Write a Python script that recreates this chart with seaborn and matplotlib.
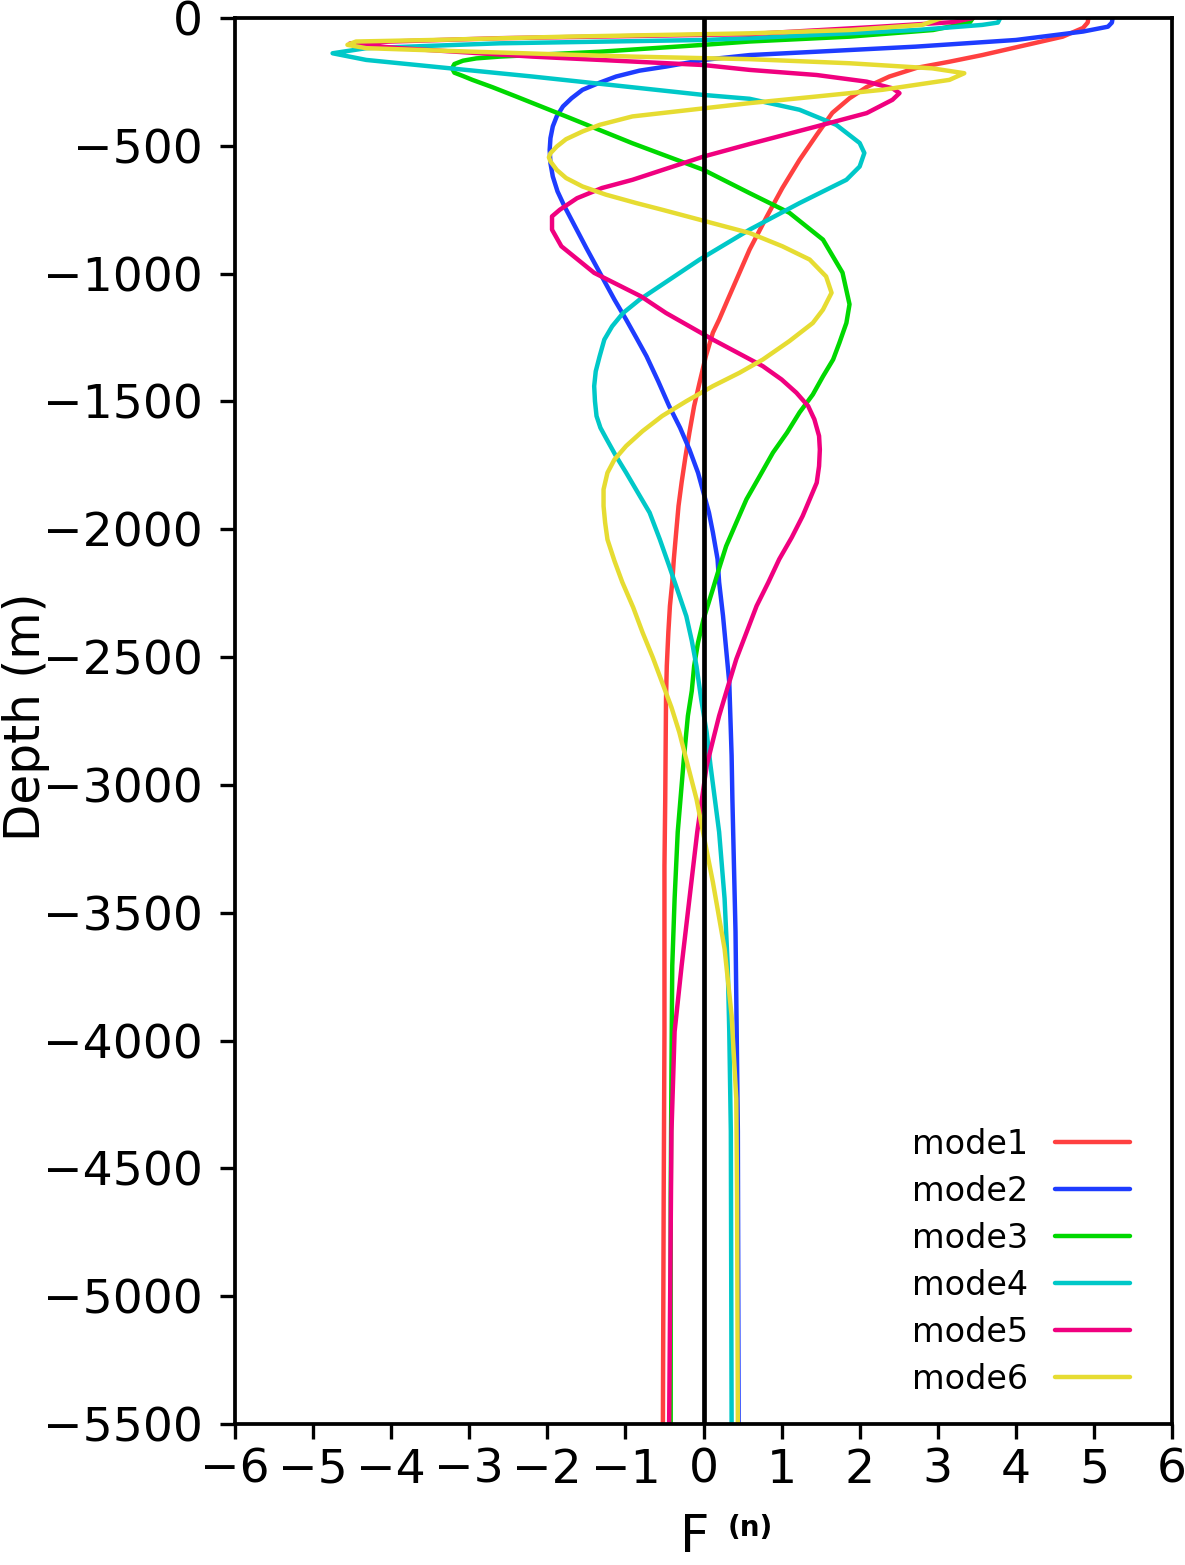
import numpy as np
import pandas as pd
import matplotlib
matplotlib.use("Agg")
import matplotlib.pyplot as plt
import seaborn as sns

# ---------------- data ----------------
mode_names = ["mode1", "mode2", "mode3", "mode4", "mode5", "mode6"]

depth1 = [0, -18, -39, -73, -145, -171, -195, -229, -270, -314, -371, -457, -555, -665, -777,
          -906, -1102, -1180, -1231, -1323, -1426, -1518, -1621, -1714, -1816, -1909, -2012,
          -2117, -2207, -2300, -2402, -2534, -2664, -3055, -3316, -3965, -4617, -5500]
f1 = [4.93, 4.92, 4.86, 4.6, 3.57, 3.15, 2.73, 2.38, 2.09, 1.87, 1.65, 1.45, 1.23, 1.01, 0.81,
      0.59, 0.31, 0.2, 0.12, 0.03, -0.05, -0.12, -0.18, -0.23, -0.28, -0.32, -0.35,
      -0.38, -0.40, -0.43, -0.45, -0.47, -0.48, -0.49, -0.50, -0.50, -0.51, -0.52]

depth2 = [0, -18, -34, -53, -86, -112, -132, -145, -164, -190, -206, -229, -253, -281, -314,
          -346, -385, -424, -470, -516, -568, -620, -678, -737, -900, -1102, -1180, -1251,
          -1323, -1421, -1518, -1603, -1688, -1779, -1857, -1935, -2012, -2117, -2207, -2339,
          -2469, -2599, -2885, -3055, -3574, -4355, -5500]
f2 = [5.24, 5.23, 5.18, 4.86, 4.0, 2.72, 1.44, 0.59, 0.0, -0.48, -0.82, -1.12, -1.33, -1.55, -1.69,
      -1.8, -1.88, -1.93, -1.96, -1.97, -1.96, -1.93, -1.87, -1.78, -1.5, -1.14, -0.99, -0.86,
      -0.73, -0.58, -0.44, -0.30, -0.18, -0.07, 0.0, 0.07, 0.12, 0.18, 0.2, 0.25,
      0.29, 0.33, 0.36, 0.37, 0.41, 0.44, 0.45]

depth3 = [0, -18, -47, -73, -92, -105, -132, -151, -158, -167, -180, -197, -214, -227, -242,
          -271, -307, -385, -490, -594, -685, -762, -867, -996, -1120, -1193, -1271, -1336,
          -1402, -1473, -1543, -1622, -1700, -1792, -1883, -1974, -2066, -2143, -2234, -2293,
          -2352, -2443, -2535, -2632, -2730, -2892, -3184, -3445, -3707, -4098, -4617, -5500]
f3 = [3.45, 3.41, 2.94, 1.87, 0.59, 0.0, -1.33, -2.61, -2.91, -3.08, -3.19, -3.22, -3.19, -3.08, -2.96,
      -2.70, -2.4, -1.76, -0.91, 0.0, 0.59, 1.1, 1.53, 1.78, 1.87, 1.83, 1.74, 1.66,
      1.53, 1.40, 1.23, 1.07, 0.89, 0.72, 0.55, 0.42, 0.29, 0.21, 0.12, 0.06,
      0.0, -0.07, -0.12, -0.15, -0.2, -0.25, -0.33, -0.37, -0.40, -0.41, -0.42, -0.42]

depth4 = [0, -18, -27, -47, -66, -79, -86, -99, -118, -138, -164, -190, -229, -271, -301,
          -316, -359, -418, -489, -528, -581, -633, -724, -828, -945, -1102, -1154, -1206,
          -1258, -1323, -1382, -1440, -1499, -1557, -1603, -1648, -1714, -1779, -1857,
          -1935, -2039, -2143, -2241, -2340, -2436, -2535, -2664, -2794, -2925, -3184,
          -3445, -3707, -3965, -4355, -5500]
f4 = [3.8, 3.77, 3.57, 2.73, 1.45, 0.59, 0.0, -2.61, -4.32, -4.75, -4.32, -3.47, -2.19, -0.91, 0.0,
      0.59, 1.23, 1.7, 2.0, 2.06, 2.0, 1.83, 1.23, 0.59, -0.05, -0.82, -1.03, -1.17,
      -1.27, -1.33, -1.38, -1.4, -1.39, -1.37, -1.32, -1.24, -1.12, -0.99, -0.84,
      -0.69, -0.56, -0.44, -0.33, -0.22, -0.15, -0.09, -0.03, 0.04, 0.09, 0.2,
      0.27, 0.31, 0.33, 0.35, 0.36]

depth5 = [0, -16, -35, -63, -66, -79, -92, -100, -110, -118, -151, -184, -203, -223, -249,
          -275, -294, -320, -372, -424, -493, -542, -633, -665, -705, -750, -776, -828, -893,
          -997, -1089, -1154, -1206, -1258, -1310, -1362, -1414, -1466, -1518, -1570, -1635,
          -1688, -1753, -1818, -1883, -1948, -2032, -2117, -2208, -2300, -2404, -2508,
          -2618, -2730, -2827, -2926, -3184, -3445, -3707, -3965, -4355, -5500]
f5 = [3.45, 3.2, 2.2, 0.59, 0.0, -2.61, -4.0, -4.53, -4.2, -3.89, -2.19, 0.0, 0.59, 1.45, 2.09,
      2.42, 2.51, 2.42, 2.09, 1.45, 0.59, 0.0, -0.91, -1.30, -1.62, -1.84, -1.94, -1.94, -1.82,
      -1.40, -0.80, -0.48, -0.18, 0.12, 0.44, 0.76, 1.0, 1.19, 1.34, 1.42, 1.48,
      1.49, 1.48, 1.45, 1.36, 1.27, 1.13, 0.97, 0.83, 0.68, 0.55, 0.42,
      0.31, 0.2, 0.12, 0.04, -0.08, -0.18, -0.28, -0.37, -0.41, -0.44]

depth6 = [0, -27, -47, -60, -73, -86, -92, -105, -118, -131, -151, -161, -177, -197, -216,
          -242, -281, -307, -333, -385, -418, -444, -474, -503, -529, -545, -561, -594, -626,
          -659, -691, -724, -750, -841, -893, -945, -1011, -1075, -1141, -1193, -1264,
          -1336, -1388, -1440, -1499, -1557, -1616, -1674, -1727, -1779, -1844, -1909,
          -1974, -2040, -2124, -2207, -2306, -2404, -2501, -2599, -2697, -2794, -2925,
          -3055, -3380, -3641, -3902, -4227, -4617, -5500]
f6 = [3.05, 2.8, 1.87, 0.59, -1.76, -3.47, -4.45, -4.56, -4.32, -3.04, -0.91, 0.59, 1.87, 2.93, 3.34,
      3.15, 2.29, 1.45, 0.59, -0.91, -1.33, -1.55, -1.76, -1.88, -1.96, -1.98, -1.96, -1.88, -1.76,
      -1.55, -1.25, -0.86, -0.53, 0.59, 1.01, 1.36, 1.57, 1.64, 1.53, 1.4, 1.10,
      0.76, 0.46, 0.12, -0.22, -0.53, -0.78, -0.99, -1.14, -1.23, -1.28, -1.28,
      -1.26, -1.23, -1.14, -1.04, -0.90, -0.78, -0.65, -0.53, -0.41, -0.31, -0.20,
      -0.09, 0.12, 0.27, 0.36, 0.42, 0.43, 0.44]

x_ticks = [-6, -5, -4, -3, -2, -1, 0, 1, 2, 3, 4, 5, 6]
y_ticks = [0, -500, -1000, -1500, -2000, -2500, -3000, -3500, -4000, -4500, -5000, -5500]

colors = ["#ff4040", "#1e3cff", "#00d800", "#00c8c8", "#f0007f", "#e6dc32"]

# ---------------- build table ----------------
frames = []
for name, d, f in zip(mode_names,
                      [depth1, depth2, depth3, depth4, depth5, depth6],
                      [f1, f2, f3, f4, f5, f6]):
    frames.append(pd.DataFrame({"F": f, "Depth": d, "mode": name}))
df = pd.concat(frames, ignore_index=True)

# ---------------- plot ----------------
sns.set_style("ticks")
plt.rcParams["font.family"] = ["DejaVu Sans"]
plt.rcParams["mathtext.fontset"] = "dejavusans"
for k in ["text.color", "axes.labelcolor", "xtick.color", "ytick.color", "axes.edgecolor"]:
    plt.rcParams[k] = "black"

fig = plt.figure(figsize=(11.85, 15.65), dpi=100)
ax = fig.add_axes([235 / 1185, 1 - 1424 / 1565, (1172 - 235) / 1185, (1424 - 18) / 1565])

sns.lineplot(data=df, x="F", y="Depth", hue="mode", hue_order=mode_names,
             palette=dict(zip(mode_names, colors)), sort=False, estimator=None,
             units="mode", linewidth=3.2, ax=ax, solid_joinstyle="round",
             solid_capstyle="round")

ax.axvline(0, color="black", linewidth=3.4, zorder=5)

ax.set_xlim(-6, 6)
ax.set_ylim(-5500, 0)
ax.set_xticks(x_ticks)
ax.set_yticks(y_ticks)
ax.set_xticklabels([str(v).replace("-", "\u2212") for v in x_ticks])
ax.set_yticklabels([str(v).replace("-", "\u2212") for v in y_ticks])

for sp in ax.spines.values():
    sp.set_visible(True)
    sp.set_linewidth(2.7)
    sp.set_color("black")
    sp.set_zorder(6)

ax.tick_params(axis="both", direction="out", length=11, width=2.4, colors="black",
               labelsize=34)
ax.tick_params(axis="x", pad=6)
ax.tick_params(axis="y", pad=12)
ax.tick_params(top=False, right=False)

ax.set_xlabel("F", fontsize=37)
ax.xaxis.set_label_coords((695 - 235) / 937, (1424 - 1513) / 1406)
ax.text((728 - 235) / 937, (1424 - 1514) / 1406, "(n)", transform=ax.transAxes,
        fontsize=20, fontweight="bold", ha="left", va="top", color="black")
ax.set_ylabel("Depth (m)", fontsize=35)
ax.yaxis.set_label_coords((50 - 235) / 937, 0.503)

handles, labels = ax.get_legend_handles_labels()
leg = ax.legend(handles, labels, loc="lower right", bbox_to_anchor=(0.955, 0.02),
                frameon=False, markerfirst=False, fontsize=24, handlelength=2.25,
                handletextpad=0.8, labelspacing=0.42, borderpad=0, borderaxespad=0)
for line in leg.get_lines():
    line.set_linewidth(3.2)
for t in leg.get_texts():
    t.set_color("black")

fig.savefig("out.png", dpi=100, facecolor="white")
